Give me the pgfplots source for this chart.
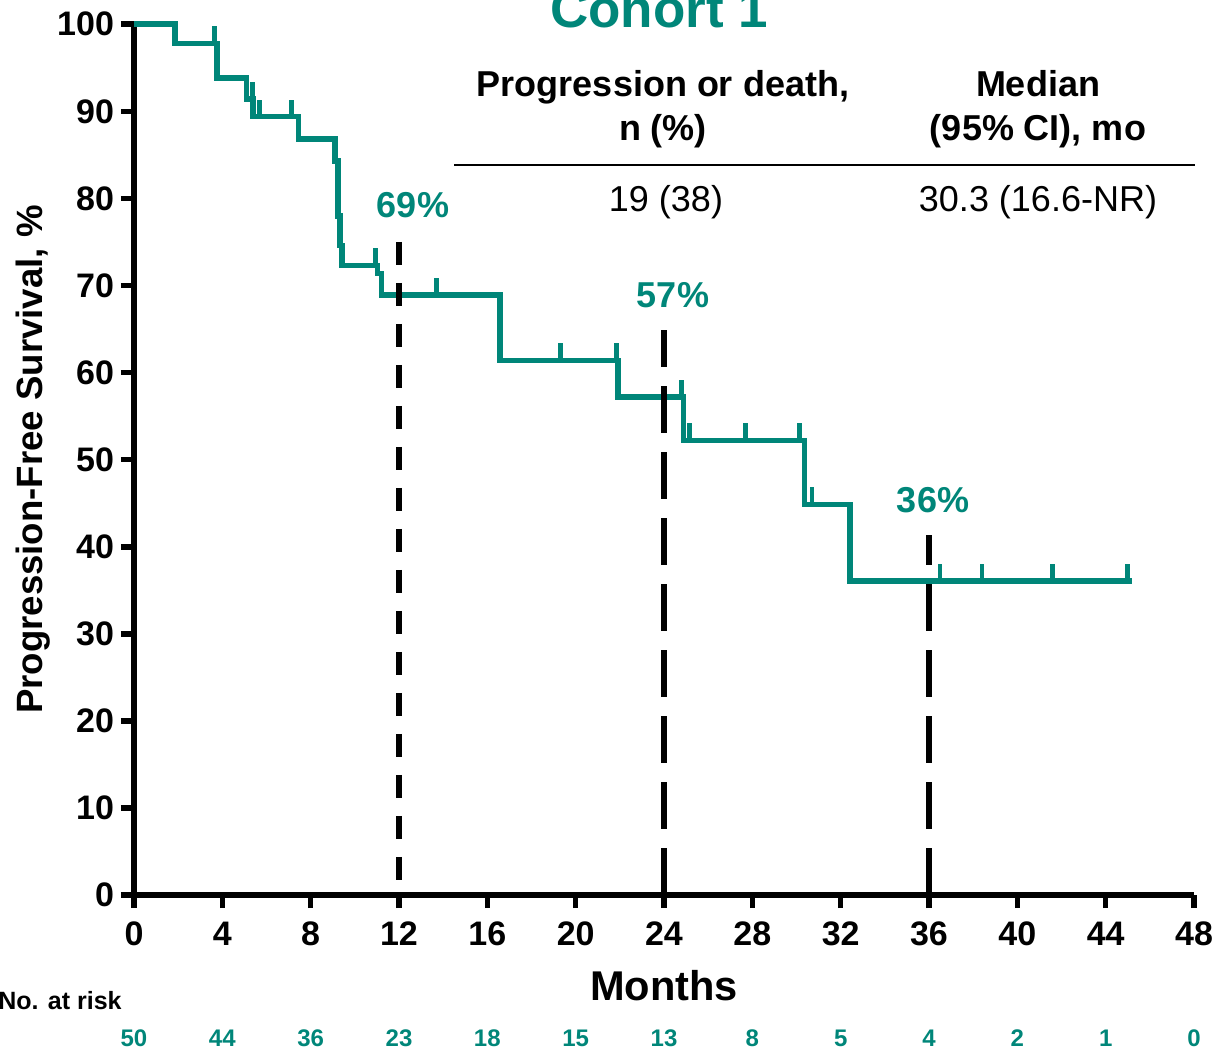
\documentclass[border=0pt]{standalone}
\usepackage{pgfplots}
\pgfplotsset{compat=1.18}
\usepackage{fontspec}
\setmainfont{Liberation Sans}
\definecolor{teal1}{RGB}{0,134,121}
\pgfdeclareplotmark{cens}{\pgfpathmoveto{\pgfpointorigin}\pgfpathlineto{\pgfpoint{0pt}{8.5pt}}\pgfusepathqstroke}
\begin{document}
\begin{tikzpicture}
\begin{axis}[
  at={(0pt,0pt)}, anchor=south west,
  scale only axis, width=530pt, height=435.35pt,
  xmin=0, xmax=48, ymin=0, ymax=100,
  axis lines*=left,
  axis line style={line width=2.8pt, black},
  xtick={0,4,...,48}, ytick={0,10,...,100},
  tick align=outside, major tick length=6.5pt,
  tick style={line width=2.8pt, black},
  ticklabel style={font=\bfseries\fontsize{17}{20}\selectfont},
  xticklabel style={yshift=-3.5pt},
  /pgf/number format/assume math mode=true,
  xlabel={Months}, ylabel={Progression-Free Survival, \%},
  xlabel style={font=\bfseries\fontsize{20.8}{24}\selectfont, at={(axis description cs:0.5,-0.1206)}, anchor=base},
  ylabel style={font=\bfseries\fontsize{18.3}{22}\selectfont, at={(axis description cs:-0.0953,0.5)}, anchor=center},
  clip=false,
]
% Kaplan-Meier curve
\addplot[const plot, teal1, line width=2.8pt] coordinates {
 (0,100) (1.86,97.8) (3.75,93.8) (5.1,91.4) (5.4,89.4) (7.44,86.8)
 (9.1,84.3) (9.25,78.0) (9.33,74.6) (9.42,72.3) (11.02,71.4) (11.2,68.9)
 (16.58,61.4) (21.93,57.2) (24.88,52.2) (30.36,44.86) (32.43,36.05) (45.2,36.05)
};
% censored observations
\addplot[only marks, mark=cens, mark options={teal1, line width=2.4pt, line cap=butt}] coordinates {
 (3.64,97.8) (5.35,91.4) (5.7,89.4) (7.15,89.4) (10.92,72.3) (13.7,68.9)
 (19.3,61.4) (21.86,61.4) (24.8,57.2) (25.15,52.2) (27.7,52.2) (30.13,52.2)
 (30.7,44.86) (36.5,36.05) (38.4,36.05) (41.6,36.05) (45.0,36.05)
};
% landmark lines
\addplot[black, line width=2.8pt, dash pattern=on 11.5pt off 9pt] coordinates {(12,75.0) (12,0)};
\addplot[black, line width=2.8pt, dash pattern=on 23.5pt off 9.5pt] coordinates {(24,0) (24,64.9)};
\addplot[black, line width=2.8pt, dash pattern=on 23.5pt off 9.5pt] coordinates {(36,0) (36,41.3)};
\end{axis}
% title
\node[anchor=base, inner sep=0, text=teal1, font=\bfseries\fontsize{26.5}{30}\selectfont] at (262.5pt,433.5pt) {Cohort 1};
% table
\node[anchor=base, inner sep=0, font=\bfseries\fontsize{18}{22}\selectfont] at (264.5pt,399pt) {Progression or death,};
\node[anchor=base, inner sep=0, font=\bfseries\fontsize{18}{22}\selectfont] at (264.5pt,377pt) {n (\%)};
\node[anchor=base, inner sep=0, font=\bfseries\fontsize{18}{22}\selectfont] at (452pt,399pt) {Median};
\node[anchor=base, inner sep=0, font=\bfseries\fontsize{18}{22}\selectfont] at (452pt,377pt) {(95\% CI), mo};
\draw[line width=1.2pt] (160pt,365pt) -- (530.5pt,365pt);
\node[anchor=base, inner sep=0, font=\fontsize{18}{22}\selectfont] at (266pt,341.5pt) {19 (38)};
\node[anchor=base, inner sep=0, font=\fontsize{18}{22}\selectfont] at (452pt,341.5pt) {30.3 (16.6-NR)};
% landmark annotations
\node[anchor=base, inner sep=0, text=teal1, font=\bfseries\fontsize{18}{22}\selectfont] at (139.5pt,338.5pt) {69\%};
\node[anchor=base, inner sep=0, text=teal1, font=\bfseries\fontsize{18}{22}\selectfont] at (269.5pt,293.5pt) {57\%};
\node[anchor=base, inner sep=0, text=teal1, font=\bfseries\fontsize{18}{22}\selectfont] at (399.5pt,191pt) {36\%};
% number at risk
\node[anchor=base west, inner sep=0, font=\bfseries\fontsize{12.5}{15}\selectfont] at (-68pt,-57.5pt) {No. at risk};
\foreach \k/\n in {0/50,1/44,2/36,3/23,4/18,5/15,6/13,7/8,8/5,9/4,10/2,11/1,12/0}{
  \node[anchor=base, inner sep=0, text=teal1, font=\bfseries\fontsize{12}{15}\selectfont] at ({44.1667*\k pt},-76pt) {\n};
}
\pgfresetboundingbox
\path (-67pt,-79pt) rectangle (540pt,447.5pt);
\end{tikzpicture}
\end{document}
